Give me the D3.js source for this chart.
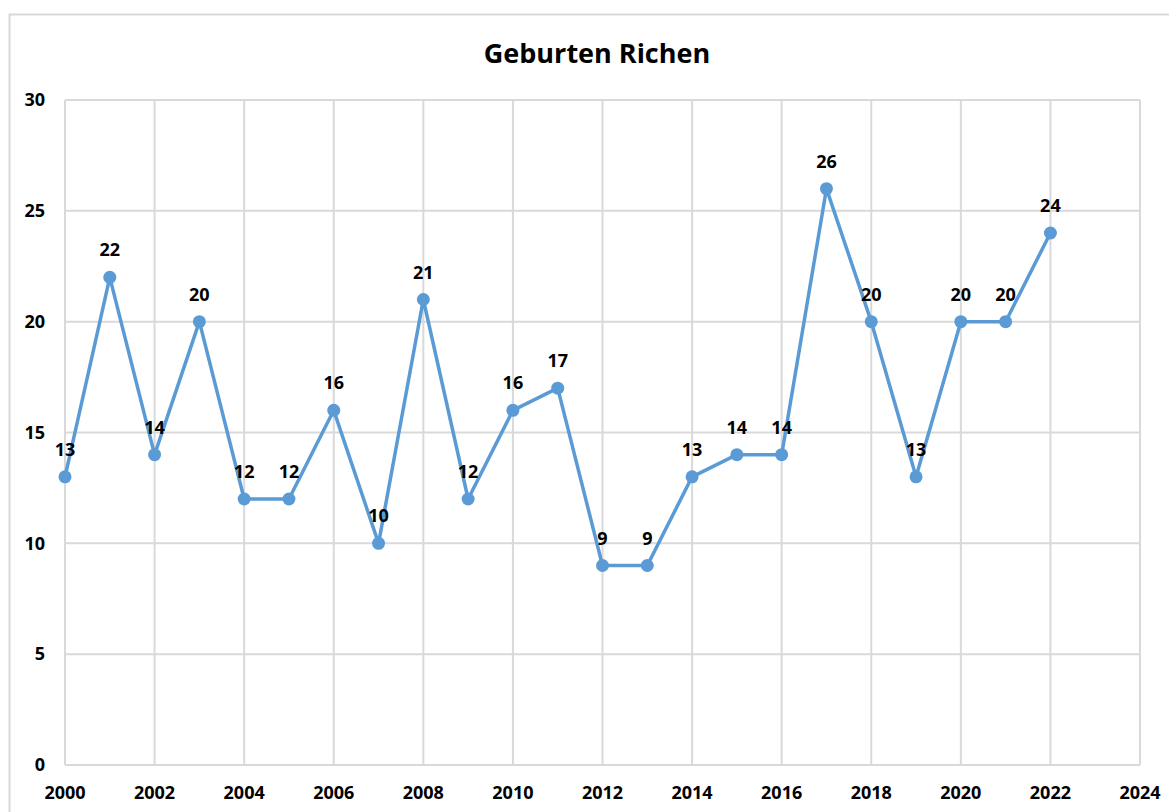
<!DOCTYPE html>
<html>
<head>
<meta charset="utf-8">
<script src="https://cdn.jsdelivr.net/npm/d3@7"></script>
<style>
  body { margin: 0; background: #fff; }
  svg text { font-family: "Open Sans", sans-serif; font-weight: bold; fill: #000; }
</style>
</head>
<body>
<div id="chart"></div>
<script>
var years = [2000, 2001, 2002, 2003, 2004, 2005, 2006, 2007, 2008, 2009, 2010, 2011,
             2012, 2013, 2014, 2015, 2016, 2017, 2018, 2019, 2020, 2021, 2022];
var births = [13, 22, 14, 20, 12, 12, 16, 10, 21, 12, 16, 17,
              9, 9, 13, 14, 14, 26, 20, 13, 20, 20, 24];
var xTicks = [2000, 2002, 2004, 2006, 2008, 2010, 2012, 2014, 2016, 2018, 2020, 2022, 2024];
var yTicks = [0, 5, 10, 15, 20, 25, 30];
var title = 'Geburten Richen';

var width = 1169, height = 812;
var svg = d3.select('#chart').append('svg')
  .attr('width', width)
  .attr('height', height);

// outer chart border
svg.append('rect')
  .attr('x', 9.5).attr('y', 14.5)
  .attr('width', 1200).attr('height', 900)
  .attr('fill', 'none')
  .attr('stroke', '#d9d9d9')
  .attr('stroke-width', 2);

var x = d3.scaleLinear().domain([2000, 2024]).range([65, 1140]);
var y = d3.scaleLinear().domain([0, 30]).range([765, 100]);

// gridlines
svg.append('g').selectAll('line')
  .data(xTicks)
  .enter().append('line')
  .attr('x1', function (d) { return x(d); })
  .attr('x2', function (d) { return x(d); })
  .attr('y1', y(0)).attr('y2', y(30))
  .attr('stroke', '#d9d9d9').attr('stroke-width', 2);

svg.append('g').selectAll('line')
  .data(yTicks)
  .enter().append('line')
  .attr('x1', x(2000)).attr('x2', x(2024))
  .attr('y1', function (d) { return y(d); })
  .attr('y2', function (d) { return y(d); })
  .attr('stroke', '#d9d9d9').attr('stroke-width', 2);

// axis labels
svg.append('g').selectAll('text')
  .data(yTicks)
  .enter().append('text')
  .attr('x', 45)
  .attr('y', function (d) { return y(d); })
  .attr('dy', '0.35em')
  .attr('text-anchor', 'end')
  .style('font-size', '18px')
  .text(function (d) { return d; });

svg.append('g').selectAll('text')
  .data(xTicks)
  .enter().append('text')
  .attr('x', function (d) { return x(d); })
  .attr('y', 793)
  .attr('dy', '0.35em')
  .attr('text-anchor', 'middle')
  .style('font-size', '18px')
  .text(function (d) { return d; });

// title
svg.append('text')
  .attr('x', 597).attr('y', 63)
  .attr('text-anchor', 'middle')
  .style('font-size', '27px')
  .text(title);

// series
var pts = years.map(function (yr, i) { return [yr, births[i]]; });

var line = d3.line()
  .x(function (d) { return x(d[0]); })
  .y(function (d) { return y(d[1]); });

svg.append('path')
  .datum(pts)
  .attr('d', line)
  .attr('fill', 'none')
  .attr('stroke', '#5b9bd5')
  .attr('stroke-width', 3.5)
  .attr('stroke-linejoin', 'round');

svg.append('g').selectAll('circle')
  .data(pts)
  .enter().append('circle')
  .attr('cx', function (d) { return x(d[0]); })
  .attr('cy', function (d) { return y(d[1]); })
  .attr('r', 6.5)
  .attr('fill', '#5b9bd5');

svg.append('g').selectAll('text')
  .data(pts)
  .enter().append('text')
  .attr('x', function (d) { return x(d[0]); })
  .attr('y', function (d) { return y(d[1]) - 21; })
  .attr('text-anchor', 'middle')
  .style('font-size', '18px')
  .text(function (d) { return d[1]; });
</script>
</body>
</html>
